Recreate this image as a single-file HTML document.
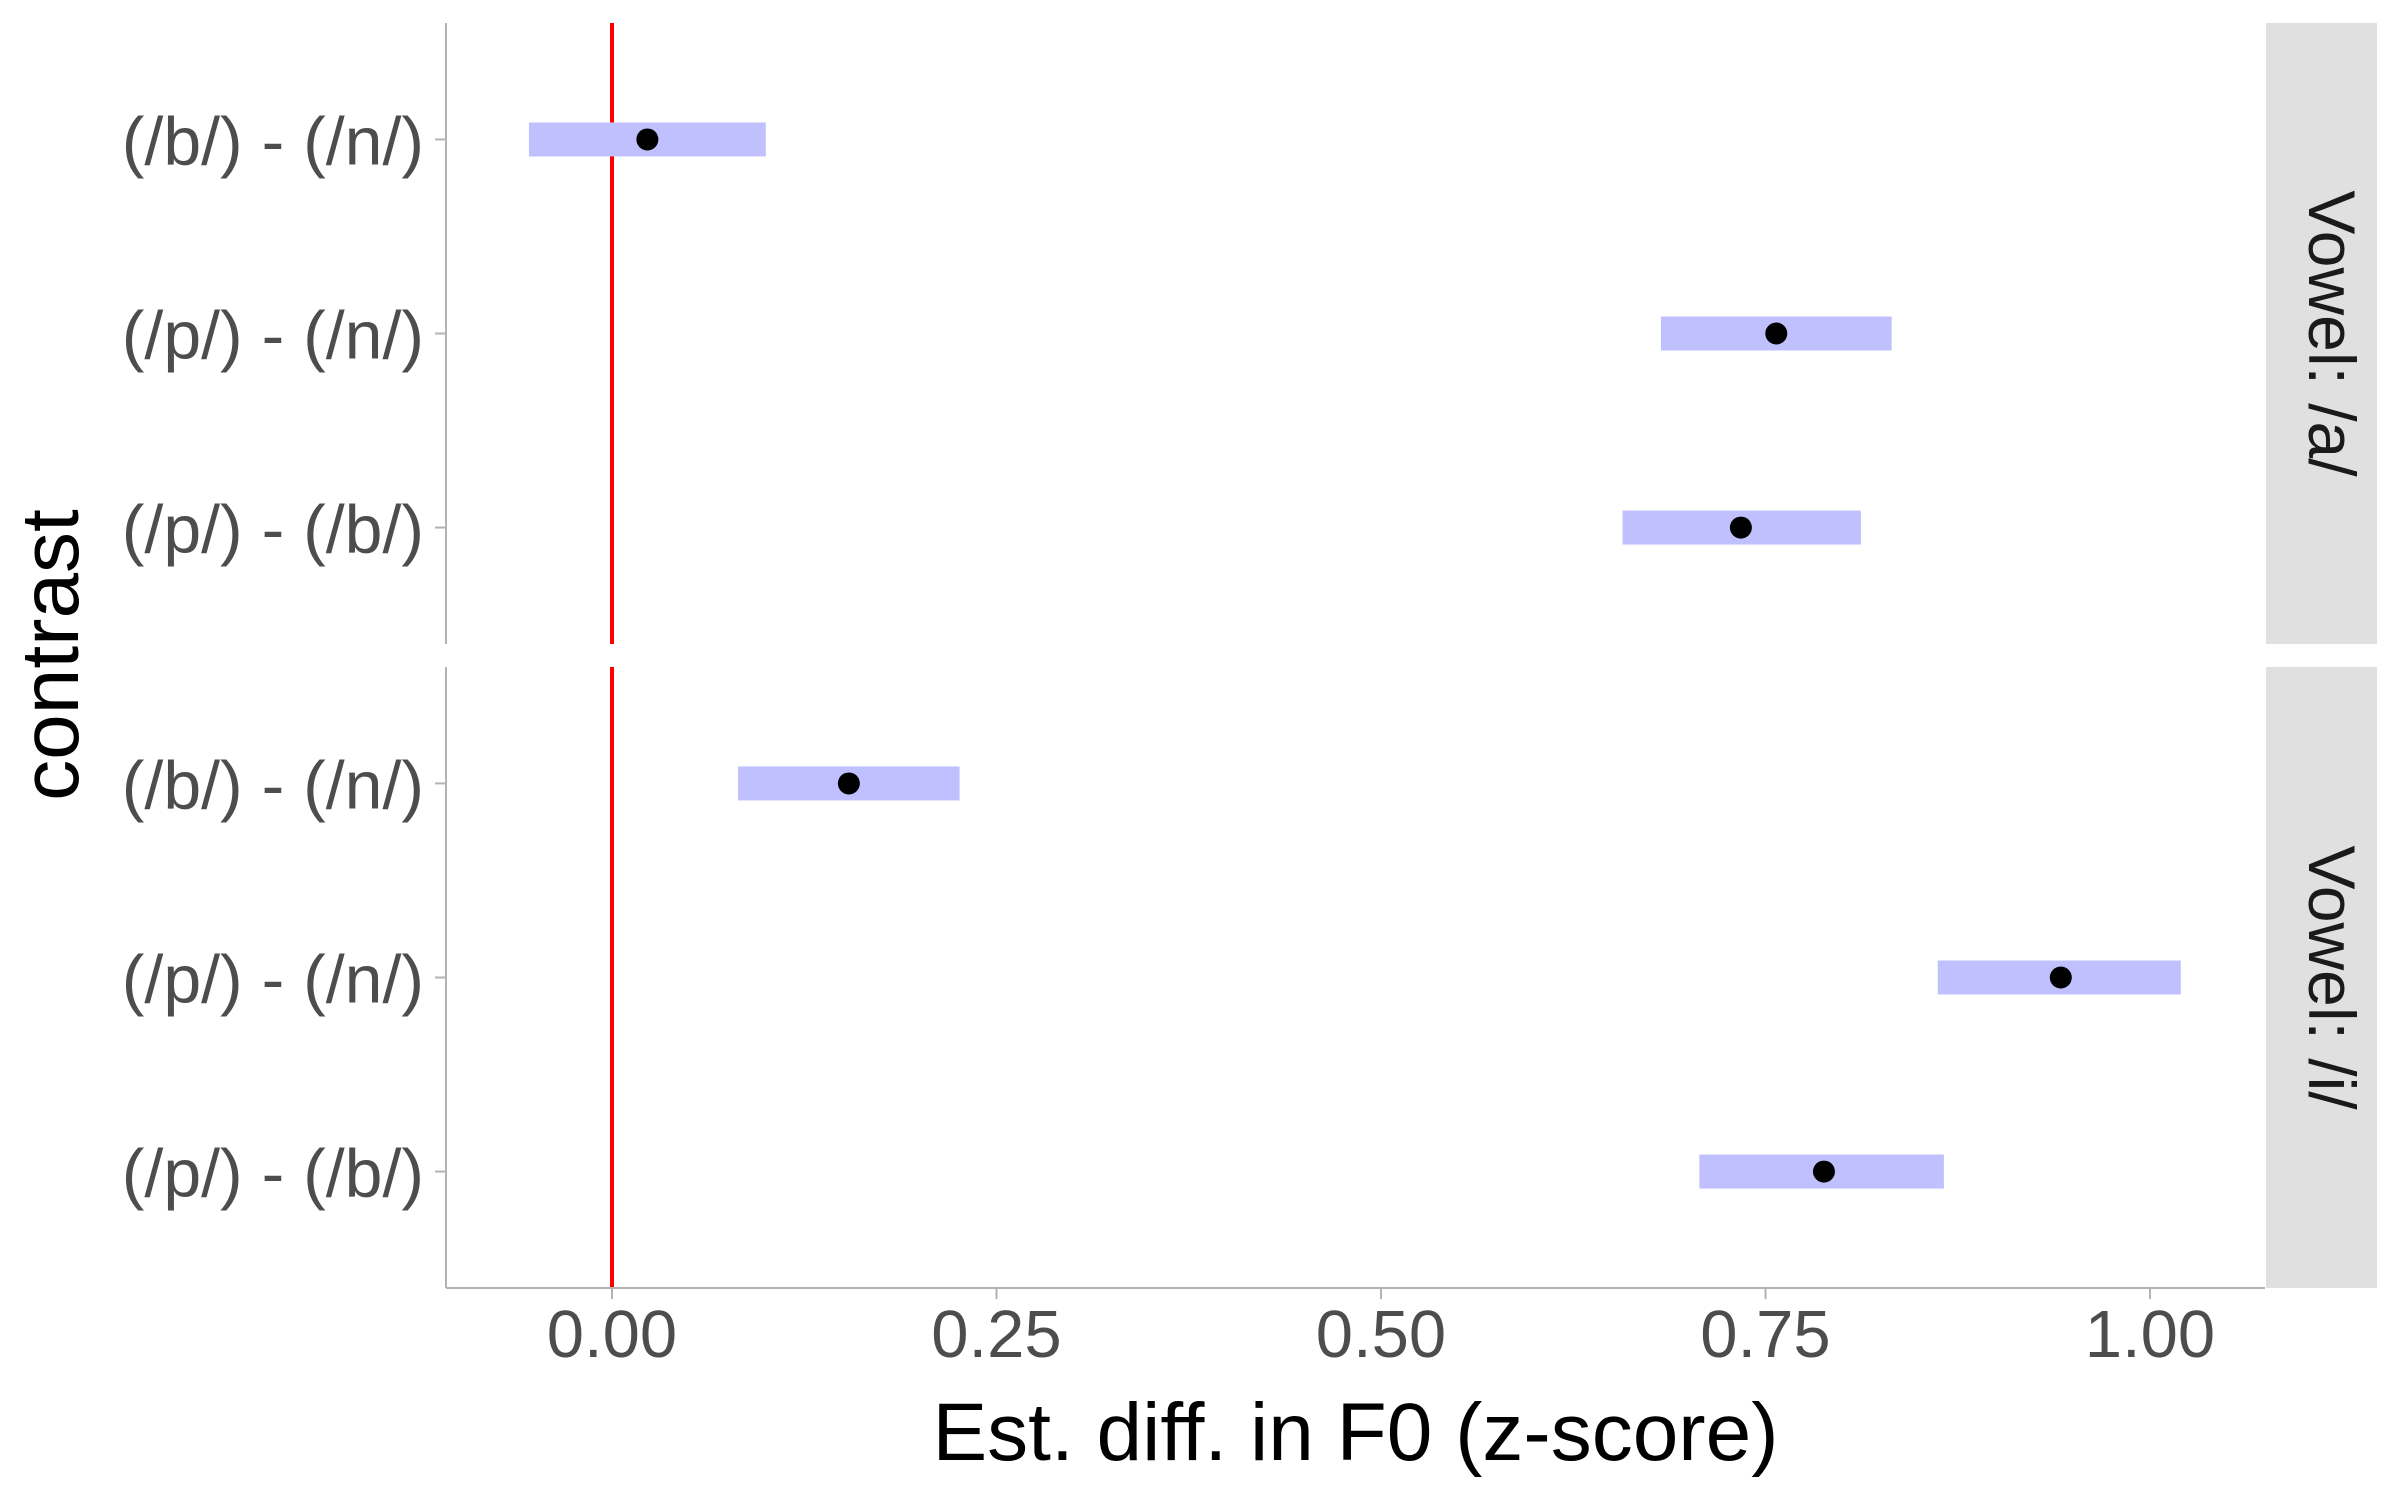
<!DOCTYPE html>
<html><head><meta charset="utf-8"><style>
html,body{margin:0;padding:0;background:#fff}
svg{display:block;font-family:"Liberation Sans",Arial,sans-serif}
</style></head><body>
<svg id="chart" width="2400" height="1500" viewBox="0 0 2400 1500" xmlns="http://www.w3.org/2000/svg"></svg>
<script>
const contrasts = ["(/b/) - (/n/)", "(/p/) - (/n/)", "(/p/) - (/b/)"];
const panels = ["Vowel: /a/", "Vowel: /i/"];
const estA = [0.023, 0.757, 0.734];
const lowA = [-0.054, 0.682, 0.657];
const highA = [0.100, 0.832, 0.812];
const estI = [0.154, 0.942, 0.788];
const lowI = [0.082, 0.862, 0.707];
const highI = [0.226, 1.020, 0.866];
const xTicks = [0, 0.25, 0.5, 0.75, 1.0];
const xTickLabels = ["0.00", "0.25", "0.50", "0.75", "1.00"];

const NS = "http://www.w3.org/2000/svg";
const svg = document.getElementById("chart");
const L = 446, R = 2265;
const panelY = [[23, 644], [667, 1288]];
function xs(v){ return 612 + v * 1538; }
function ys(i, p){ const [t,b] = panelY[p]; const step = (b - t) / 3.2; return t + (0.6 + i) * step; }
function mk(tag, attrs, parent){
  const e = document.createElementNS(NS, tag);
  for (const k in attrs) e.setAttribute(k, attrs[k]);
  (parent || svg).appendChild(e);
  return e;
}
const data = [[estA, lowA, highA], [estI, lowI, highI]];
panelY.forEach(([t,b], p) => {
  const g = mk("g", {});
  
  
  const ax = mk("line", {x1: L, x2: L, y1: t, y2: b, stroke: "#b3b3b3", "stroke-width": 2}, g);
  
  
  const strip = mk("rect", {x: 2266, y: t, width: 111, height: b - t, fill: "#e0e0e0"}, g);
  
  
  const st = mk("text", {x: 0, y: 0, "font-size": 66, fill: "#1a1a1a", "text-anchor": "middle", transform: `translate(2309,${(t+b)/2}) rotate(90)`}, g);
  st.textContent = panels[p];
  
  
  contrasts.forEach((c, i) => {
    const y = ys(i, p);
    const tk = mk("line", {x1: L - 11, x2: L, y1: y, y2: y, stroke: "#b3b3b3", "stroke-width": 2}, g);
    
    
    const tl = mk("text", {x: 424, y: y + 25, "font-size": 68, fill: "#4d4d4d", "text-anchor": "end"}, g);
    tl.textContent = c;
    
    
  });
  const rl = mk("line", {x1: xs(0), x2: xs(0), y1: t, y2: b, stroke: "#ff0000", "stroke-width": 4}, g);
  
  
  const [est, lo, hi] = data[p];
  est.forEach((v, i) => {
    const y = ys(i, p);
    const bar = mk("rect", {x: xs(lo[i]), y: y - 17, width: xs(hi[i]) - xs(lo[i]), height: 34, fill: "#c0c0ff"}, g);
    
    
    const pt = mk("circle", {cx: xs(v), cy: y, r: 11, fill: "#000"}, g);
    
    
  });
});
const xl = mk("line", {x1: L, x2: R, y1: 1288, y2: 1288, stroke: "#b3b3b3", "stroke-width": 2});


xTicks.forEach((v, i) => {
  const tk = mk("line", {x1: xs(v), x2: xs(v), y1: 1288, y2: 1299, stroke: "#b3b3b3", "stroke-width": 2});
  
  
  const tl = mk("text", {x: xs(v), y: 1357, "font-size": 67, fill: "#4d4d4d", "text-anchor": "middle"});
  tl.textContent = xTickLabels[i];
  
  
});
const xt = mk("text", {x: (L + R) / 2, y: 1460, "font-size": 82, fill: "#000", "text-anchor": "middle"});
xt.textContent = "Est. diff. in F0 (z-score)";


const yt = mk("text", {x: 0, y: 0, "font-size": 82, fill: "#000", "text-anchor": "middle", transform: "translate(78,655) rotate(-90)"});
yt.textContent = "contrast";


</script>
</body></html>
